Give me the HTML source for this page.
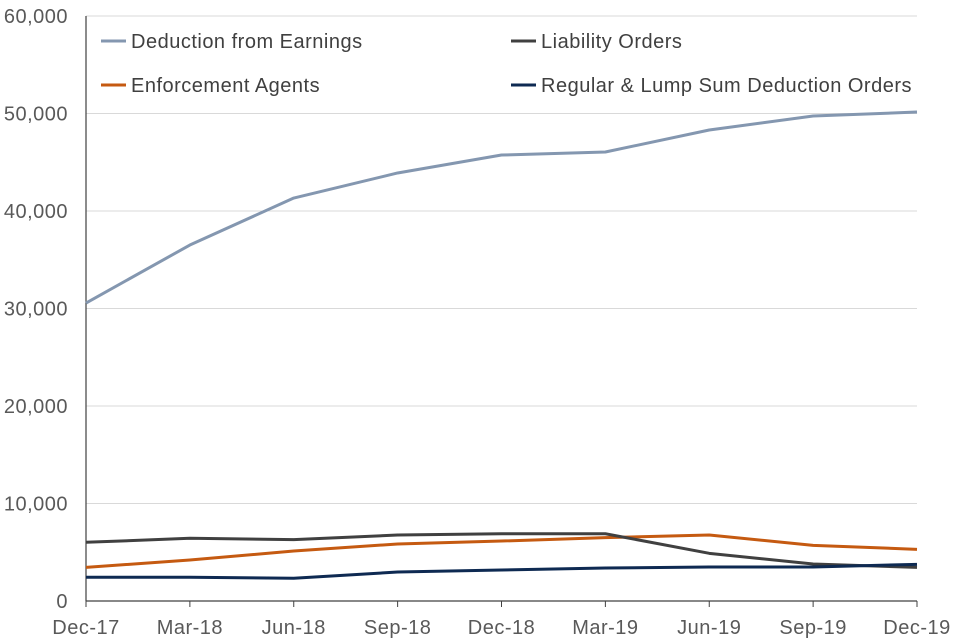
<!DOCTYPE html>
<html><head><meta charset="utf-8"><style>
body{margin:0;background:#fff;}
svg{display:block;font-family:"Liberation Sans",sans-serif;}
text{letter-spacing:0.5px;}
</style></head><body>
<svg id="chart" width="960" height="640"></svg>
<script>
const categories=["Dec-17","Mar-18","Jun-18","Sep-18","Dec-18","Mar-19","Jun-19","Sep-19","Dec-19"];
const deductionEarnings=[30560,36510,41330,43900,45740,46050,48310,49740,50150];
const liabilityOrders=[6020,6430,6290,6770,6900,6900,4890,3790,3450];
const enforcementAgents=[3450,4200,5130,5850,6150,6500,6770,5710,5300];
const regularLumpSum=[2430,2430,2330,2970,3180,3380,3490,3490,3760];
const yTicks=[0,10000,20000,30000,40000,50000,60000];
const yTickLabels=["0","10,000","20,000","30,000","40,000","50,000","60,000"];

const svg=document.getElementById('chart');
const NS="http://www.w3.org/2000/svg";
const X0=86,X1=917,Y0=601,Y1=16;
const x=i=>X0+i*(X1-X0)/(categories.length-1);
const y=v=>Y0-(v/60000)*(Y0-Y1);
function mk(t,a){const e=document.createElementNS(NS,t);for(const k in a)e.setAttribute(k,a[k]);svg.appendChild(e);return e;}

yTicks.forEach((v,i)=>{
  if(v>0){const g=mk('line',{x1:X0,x2:X1,y1:y(v),y2:y(v),stroke:'#d9d9d9','stroke-width':1});
  
  }
  const t=mk('text',{x:68,y:y(v)+7,'text-anchor':'end','font-size':20,fill:'#595959'});
  t.textContent=yTickLabels[i];
  
  
});
const ya=mk('line',{x1:X0,x2:X0,y1:Y1,y2:Y0,stroke:'#404040','stroke-width':1.2});


const xa=mk('line',{x1:X0,x2:X1,y1:Y0,y2:Y0,stroke:'#404040','stroke-width':1.2});


categories.forEach((c,i)=>{
  const tk=mk('line',{x1:x(i),x2:x(i),y1:Y0,y2:Y0+6,stroke:'#404040'});
  
  
  const t=mk('text',{x:x(i),y:634,'text-anchor':'middle','font-size':20,fill:'#595959'});
  t.textContent=c;
  
  
});
const series=[
 [deductionEarnings,'#8497b0','series-deduction-from-earnings'],
 [enforcementAgents,'#c55a11','series-enforcement-agents'],
 [liabilityOrders,'#404040','series-liability-orders'],
 [regularLumpSum,'#0e2a52','series-regular-lump-sum']
];
series.forEach(([d,c,n])=>{
  const p=mk('polyline',{points:d.map((v,i)=>x(i)+','+y(v)).join(' '),fill:'none',stroke:c,'stroke-width':3,'stroke-linejoin':'round'});
  
  
});
const legend=[
 ['Deduction from Earnings','#8497b0',101,41],
 ['Liability Orders','#404040',511,41],
 ['Enforcement Agents','#c55a11',101,85],
 ['Regular & Lump Sum Deduction Orders','#0e2a52',511,85]
];
legend.forEach(([l,c,lx,ly])=>{
  const s=mk('line',{x1:lx,x2:lx+25,y1:ly,y2:ly,stroke:c,'stroke-width':3});
  
  
  const t=mk('text',{x:lx+30,y:ly+7,'font-size':20,fill:'#404040'});
  t.textContent=l;
  
  
});
</script>
</body></html>
